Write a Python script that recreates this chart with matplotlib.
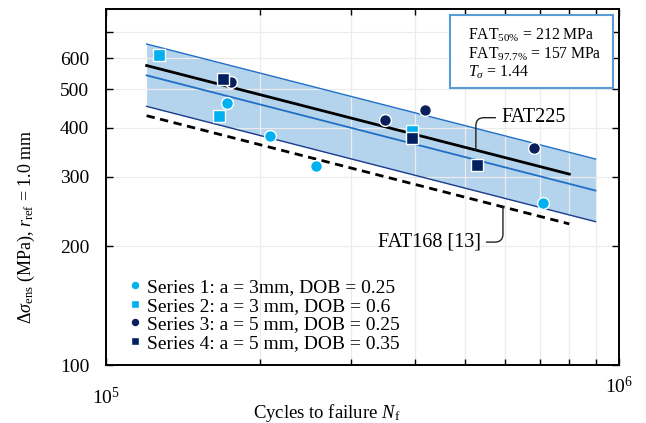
import matplotlib
matplotlib.use("Agg")
import matplotlib.pyplot as plt
import numpy as np
from matplotlib.ticker import FixedLocator, NullLocator, LogLocator, NullFormatter, LogFormatterMathtext
from matplotlib.patches import Rectangle

plt.rcParams['font.family'] = ['Liberation Serif', 'DejaVu Serif']
plt.rcParams['mathtext.fontset'] = 'custom'
plt.rcParams['mathtext.rm'] = 'Liberation Serif'
plt.rcParams['mathtext.it'] = 'Liberation Serif:italic'
plt.rcParams['mathtext.bf'] = 'Liberation Serif:bold'

# test data (cycles, stress range in MPa)
s1_n = [1.72e5, 2.09e5, 2.57e5, 7.1e5]
s1_s = [461, 381, 320, 257]
s2_n = [1.27e5, 1.66e5, 3.95e5]
s2_s = [612, 428, 393]
s3_n = [1.75e5, 3.5e5, 4.19e5, 6.82e5]
s3_s = [521, 419, 444, 356]
s4_n = [1.69e5, 3.95e5, 5.28e5]
s4_s = [531, 377, 321]

# scatter band (mean and +/- limits)
band_n = [1.2e5, 9e5]
band_upper = [652, 333]
band_mean = [543, 277]
band_lower = [453, 231]

# design curves
fat225_n = [1.2e5, 8e5]
fat225_s = [575, 305]
fat168_n = [1.2e5, 8e5]
fat168_s = [429, 228]

fat50 = 212
fat977 = 157
t_sigma = 1.44

light = '#00b0f0'
navy = '#0b1f5c'

fig = plt.figure(figsize=(6.46, 4.23), dpi=100)
ax = fig.add_axes([106/646, 58/423, 513/646, 356/423])
ax.set_xscale('log')
ax.set_yscale('log')
ax.set_xlim(1e5, 1e6)
ax.set_ylim(100, 800)

ax.fill_between(band_n, band_lower, band_upper, color='#b4d3ec', lw=0, zorder=0.3)
ax.plot(band_n, band_upper, color='#1f6fc5', lw=1.0, zorder=2)
ax.plot(band_n, band_mean, color='#1f6fc5', lw=1.3, zorder=2)
ax.plot(band_n, band_lower, color='#1a3c8c', lw=1.0, zorder=2)
ax.plot(fat225_n, fat225_s, color='black', lw=2.0, zorder=2.2)
ax.plot(fat168_n, fat168_s, color='black', lw=2.0, ls=(0, (3, 2)), zorder=2.2)

mk = dict(ls='none', mec='white', mew=1.0, zorder=3)
ax.plot(s1_n, s1_s, marker='o', ms=8.5, color=light, label='Series 1: a = 3mm, DOB = 0.25', **mk)
ax.plot(s2_n, s2_s, marker='s', ms=8, color=light, label='Series 2: a = 3 mm, DOB = 0.6', **mk)
ax.plot(s3_n, s3_s, marker='o', ms=8.5, color=navy, label='Series 3: a = 5 mm, DOB = 0.25', **mk)
ax.plot(s4_n, s4_s, marker='s', ms=8, color='#002060', label='Series 4: a = 5 mm, DOB = 0.35', **mk)

# ticks
ax.xaxis.set_major_locator(FixedLocator([1e5, 1e6]))
ax.xaxis.set_major_formatter(LogFormatterMathtext())
ax.xaxis.set_minor_locator(LogLocator(base=10, subs=np.arange(2, 10)))
ax.xaxis.set_minor_formatter(NullFormatter())
ax.yaxis.set_major_locator(FixedLocator([100, 200, 300, 400, 500, 600, 700]))
ax.set_yticklabels(['100', '200', '300', '400', '500', '600', ''])
ax.yaxis.set_minor_locator(NullLocator())
ax.tick_params(which='both', direction='in', top=True, right=True, labelsize=14, width=1.0)
ax.tick_params(which='major', length=5)
ax.tick_params(which='minor', length=4)
ax.tick_params(axis='y', pad=12)
ticks = ax.xaxis.get_major_ticks()
ticks[0].set_pad(16)
ticks[1].set_pad(8)

ax.set_axisbelow(True)
ax.grid(True, which='both', color='#ececec', lw=0.9)
for sp in ax.spines.values():
    sp.set_linewidth(1.4)

ax.set_xlabel('Cycles to failure $\\mathit{N}_{\\mathrm{f}}$', fontsize=13.5)
ax.xaxis.set_label_coords(0.43, -0.105)
ax.set_ylabel('$\\Delta\\mathit{\\sigma}_{\\mathrm{ens}}$ (MPa), $\\mathit{r}_{\\mathrm{ref}}$ = 1.0 mm', fontsize=13)
ax.yaxis.set_label_coords(-0.135, 0.388)

# summary box
ax.add_patch(Rectangle((0.671, 0.778), 0.318, 0.205, transform=ax.transAxes,
                       fill=True, fc='white', ec='#5b9bd5', lw=1.5, zorder=4))
box_lines = ['FAT$_{50\\%}$ = ' + str(fat50) + ' MPa',
             'FAT$_{97.7\\%}$ = ' + str(fat977) + ' MPa',
             '$\\mathit{T}_{\\sigma}$ = ' + f'{t_sigma:.2f}']
for i, t in enumerate(box_lines):
    ax.text(0.705, 0.925 - i * 0.052, t, transform=ax.transAxes, fontsize=11.3,
            va='center', ha='left', zorder=5)

# labels for design curves
ax.annotate('FAT225', xy=(5.26e5, 351), xytext=(5.89e5, 424), fontsize=14.5,
            va='center', ha='left',
            arrowprops=dict(arrowstyle='-', color='#222222', lw=1.0, relpos=(0, 0.5),
                            shrinkA=2, shrinkB=0,
                            connectionstyle='angle,angleA=0,angleB=90,rad=8'))
ax.annotate('FAT168 [13]', xy=(5.94e5, 252), xytext=(5.38e5, 205), fontsize=14.5,
            va='center', ha='right',
            arrowprops=dict(arrowstyle='-', color='#222222', lw=1.0, relpos=(1, 0.5),
                            shrinkA=2, shrinkB=0,
                            connectionstyle='angle,angleA=0,angleB=90,rad=8'))

ax.legend(loc='lower left', bbox_to_anchor=(0.03, 0.015), frameon=False, fontsize=14,
          markerscale=0.75, handlelength=0.6, handletextpad=0.3, labelspacing=0.05,
          borderaxespad=0)

fig.savefig('out.png', dpi=100)
